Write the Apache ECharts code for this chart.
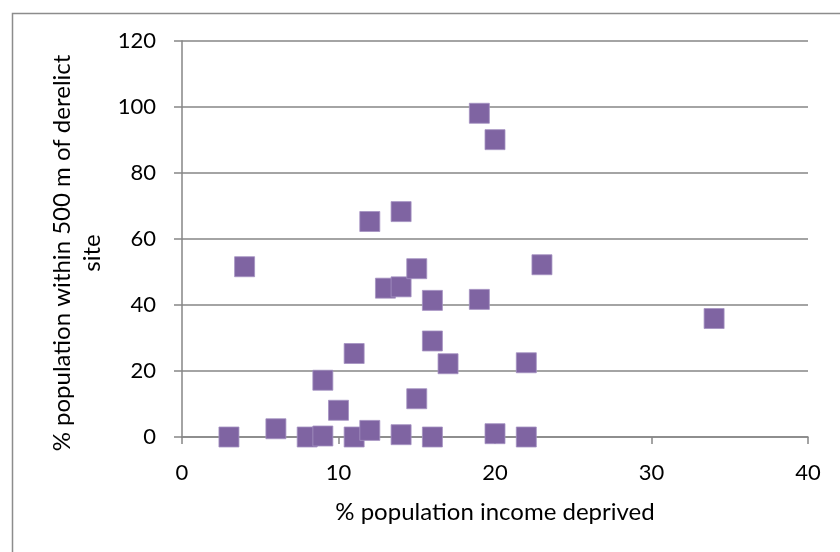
<!DOCTYPE html>
<html>
<head>
<meta charset="utf-8">
<script src="https://cdn.jsdelivr.net/npm/echarts@6/dist/echarts.min.js"></script>
<style>
  html, body { margin: 0; padding: 0; background: #fff; }
  #chart { width: 840px; height: 552px; }
</style>
</head>
<body>
<div id="chart"></div>
<script>
// % population income deprived (x) vs % population within 500 m of derelict site (y)
const incomeDeprived = [3, 4, 6, 8, 9, 9, 10, 11, 11, 12, 12, 13, 14, 14, 14, 15, 15, 16, 16, 16, 17, 19, 19, 20, 20, 22, 22, 23, 34];
const nearDerelict = [0, 51.6, 2.5, 0, 0.3, 17.2, 8.1, 25.3, 0, 65.3, 2.0, 45.1, 45.5, 68.3, 0.7, 51.0, 11.6, 41.4, 29.1, 0, 22.2, 98.1, 41.7, 90.1, 1.0, 22.5, 0, 52.2, 35.9];

const xTitle = '% population income deprived';
const yTitle = '% population within 500 m of derelict\nsite';

const chart = echarts.init(document.getElementById('chart'));

const points = incomeDeprived.map((x, i) => [x, nearDerelict[i]]);

const fontFamily = 'Lato';
const grey = '#868686';

const option = {
  animation: false,
  backgroundColor: '#fff',
  textStyle: { fontFamily: fontFamily, color: '#000' },
  graphic: [{
    type: 'rect',
    left: 10,
    top: 11,
    shape: { width: 840, height: 560 },
    style: { fill: 'none', stroke: '#8c8c8c', lineWidth: 1.5 }
  }],
  grid: { left: 182, right: 32, top: 41, bottom: 115 },
  xAxis: {
    type: 'value',
    min: 0,
    max: 40,
    interval: 10,
    name: xTitle,
    nameLocation: 'middle',
    nameGap: 63,
    nameTextStyle: { fontSize: 24, color: '#000', fontFamily: fontFamily },
    axisLine: { show: true, onZero: false, lineStyle: { color: grey, width: 1.5 } },
    axisTick: { show: true, length: 7, inside: false, lineStyle: { color: grey, width: 1.5 } },
    axisLabel: { margin: 25, fontSize: 22, color: '#000' },
    splitLine: { show: false }
  },
  yAxis: {
    type: 'value',
    min: 0,
    max: 120,
    interval: 20,
    name: yTitle,
    nameLocation: 'middle',
    nameRotate: 90,
    nameGap: 72,
    // shifts the rotated title down a little, as in the original
    nameTextStyle: { fontSize: 24, lineHeight: 30, color: '#000', fontFamily: fontFamily, padding: [0, 28, 0, 0] },
    axisLine: { show: true, lineStyle: { color: grey, width: 1.5 } },
    axisTick: { show: true, length: 8, inside: false, lineStyle: { color: grey, width: 1.5 } },
    axisLabel: { margin: 26, fontSize: 22, color: '#000' },
    splitLine: { show: true, lineStyle: { color: grey, width: 1.5 } }
  },
  series: [{
    type: 'scatter',
    data: points,
    symbol: 'rect',
    symbolSize: 20,
    itemStyle: { color: '#7F64A2', borderColor: '#a592c2', borderWidth: 0.8, opacity: 1 }
  }]
};

chart.setOption(option);

window.addEventListener('resize', () => chart.resize());
</script>
</body>
</html>
